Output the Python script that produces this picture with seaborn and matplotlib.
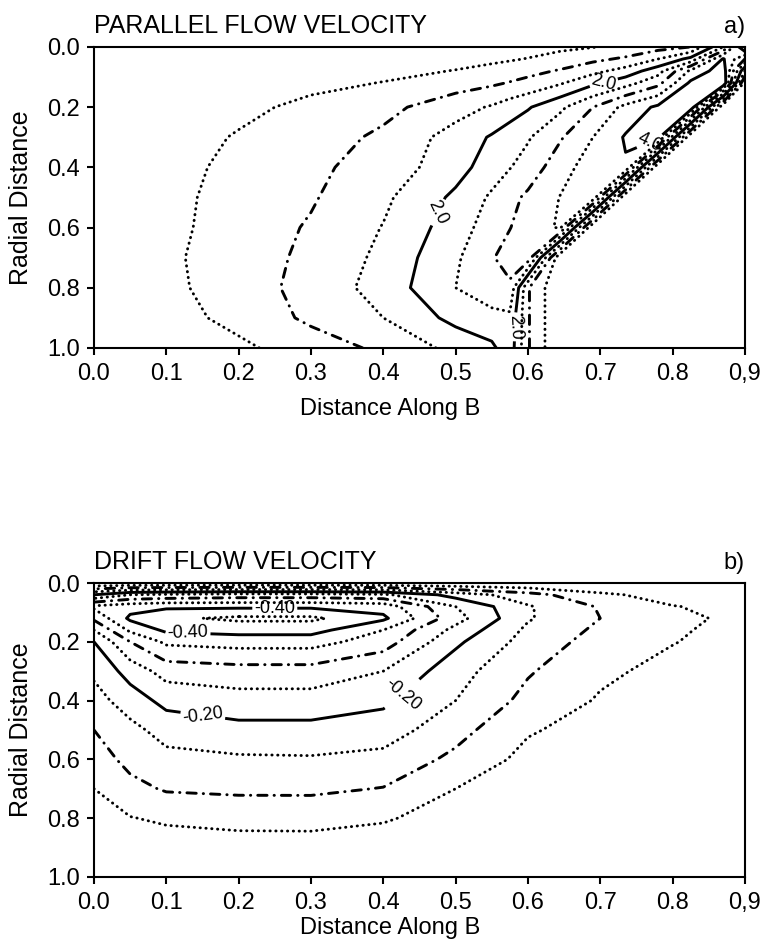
import numpy as np
import matplotlib
matplotlib.use("Agg")
import matplotlib.pyplot as plt
import seaborn as sns

# ---- panel a: parallel flow velocity ----
x_par = [0.0, 0.1, 0.2, 0.3, 0.4, 0.5, 0.55, 0.575, 0.6, 0.645, 0.69, 0.735, 0.78, 0.825, 0.87, 0.9]
r_par = [0.0, 0.04, 0.08, 0.12, 0.2, 0.3, 0.4, 0.5, 0.6, 0.7, 0.8, 0.9, 1.0]
v_par = [
    [0.0, 0.0, 0.0, 0.0, 0.05, 0.12, 0.18, 0.22, 0.28, 0.40, 0.48, 0.62, 0.80, 1.00, 2.50, 4.60],
    [0.0, 0.0, 0.03, 0.10, 0.20, 0.32, 0.40, 0.45, 0.52, 0.68, 0.88, 1.08, 1.50, 2.15, 4.05, 3.00],
    [0.0, 0.02, 0.10, 0.22, 0.35, 0.52, 0.65, 0.75, 0.85, 1.05, 1.35, 1.70, 2.30, 3.60, 4.30, 1.50],
    [0.0, 0.03, 0.20, 0.35, 0.52, 0.78, 0.92, 1.03, 1.15, 1.45, 1.90, 2.30, 2.85, 4.10, 4.50, 0.30],
    [0.0, 0.10, 0.35, 0.65, 0.85, 1.30, 1.55, 1.75, 1.95, 2.40, 3.00, 3.65, 4.10, 4.40, 0.0, 0.0],
    [0.0, 0.22, 0.55, 0.75, 1.10, 1.70, 2.05, 2.25, 2.45, 2.95, 3.50, 4.05, 4.20, 0.0, 0.0, 0.0],
    [0.0, 0.30, 0.65, 0.90, 1.20, 1.80, 2.25, 2.48, 2.70, 3.30, 3.75, 3.95, 0.0, 0.0, 0.0, 0.0],
    [0.0, 0.35, 0.70, 0.95, 1.40, 2.10, 2.58, 2.85, 3.10, 3.52, 3.80, 0.0, 0.0, 0.0, 0.0, 0.0],
    [0.0, 0.37, 0.72, 1.05, 1.52, 2.25, 2.75, 2.98, 3.30, 3.55, 0.0, 0.0, 0.0, 0.0, 0.0, 0.0],
    [0.0, 0.40, 0.78, 1.10, 1.62, 2.42, 2.95, 3.25, 3.30, 0.0, 0.0, 0.0, 0.0, 0.0, 0.0, 0.0],
    [0.0, 0.38, 0.75, 1.18, 1.70, 2.50, 2.80, 2.90, 1.05, 0.0, 0.0, 0.0, 0.0, 0.0, 0.0, 0.0],
    [0.0, 0.30, 0.65, 1.10, 1.50, 2.15, 2.35, 2.40, 1.05, 0.0, 0.0, 0.0, 0.0, 0.0, 0.0, 0.0],
    [0.0, 0.20, 0.40, 0.75, 1.10, 1.65, 1.90, 2.30, 1.05, 0.0, 0.0, 0.0, 0.0, 0.0, 0.0, 0.0],
]
levels_par = [0.5, 1.0, 1.5, 2.0, 2.5, 3.0, 3.5, 4.0]
labelled_par = [2.0, 4.0]
label_pos_par = [(0.705, 0.12), (0.476, 0.55), (0.582, 0.93), (0.768, 0.31)]

# ---- panel b: drift flow velocity ----
x_drift = [0.0, 0.05, 0.1, 0.2, 0.3, 0.4, 0.5, 0.6, 0.7, 0.8, 0.9]
r_drift = [0.0, 0.04, 0.08, 0.12, 0.16, 0.2, 0.3, 0.4, 0.5, 0.6, 0.7, 0.8, 0.9, 1.0]
v_drift = [
    [0.0, 0.0, 0.0, 0.0, 0.0, 0.0, 0.0, 0.0, 0.0, 0.0, 0.0],
    [-0.20, -0.25, -0.26, -0.27, -0.27, -0.26, -0.18, -0.12, -0.06, -0.03, -0.02],
    [-0.36, -0.38, -0.39, -0.39, -0.39, -0.38, -0.25, -0.155, -0.095, -0.052, -0.035],
    [-0.31, -0.41, -0.44, -0.46, -0.46, -0.41, -0.27, -0.155, -0.10, -0.06, -0.04],
    [-0.25, -0.36, -0.41, -0.42, -0.42, -0.35, -0.235, -0.14, -0.09, -0.056, -0.035],
    [-0.20, -0.30, -0.36, -0.37, -0.37, -0.325, -0.21, -0.13, -0.08, -0.052, -0.03],
    [-0.16, -0.22, -0.27, -0.28, -0.28, -0.25, -0.17, -0.105, -0.06, -0.035, -0.02],
    [-0.13, -0.175, -0.215, -0.23, -0.23, -0.21, -0.15, -0.085, -0.045, -0.02, -0.01],
    [-0.10, -0.135, -0.17, -0.185, -0.185, -0.175, -0.118, -0.055, -0.03, -0.01, -0.005],
    [-0.075, -0.115, -0.135, -0.143, -0.145, -0.135, -0.088, -0.035, -0.02, -0.005, 0.0],
    [-0.05, -0.085, -0.105, -0.11, -0.11, -0.098, -0.05, -0.02, -0.01, 0.0, 0.0],
    [-0.03, -0.048, -0.058, -0.065, -0.066, -0.055, -0.03, -0.01, -0.005, 0.0, 0.0],
    [-0.015, -0.02, -0.025, -0.03, -0.03, -0.025, -0.013, -0.005, 0.0, 0.0, 0.0],
    [-0.005, -0.008, -0.01, -0.01, -0.01, -0.008, -0.005, 0.0, 0.0, 0.0, 0.0],
]
levels_drift = [-0.45, -0.40, -0.35, -0.30, -0.25, -0.20, -0.15, -0.10, -0.05]
labelled_drift = [-0.40, -0.20]
label_pos_drift = [(0.13, 0.17), (0.25, 0.085), (0.15, 0.46), (0.42, 0.36)]

x_ticks = [0.0, 0.1, 0.2, 0.3, 0.4, 0.5, 0.6, 0.7, 0.8, 0.9]
x_ticklabels = ["0.0", "0.1", "0.2", "0.3", "0.4", "0.5", "0.6", "0.7", "0.8", "0,9"]
r_ticks = [0.0, 0.2, 0.4, 0.6, 0.8, 1.0]
r_ticklabels = ["0.0", "0.2", "0.4", "0.6", "0.8", "1.0"]

DOT = (0, (0.1, 1.9))
DASHDOT = (0, (3.2, 2.4, 0.1, 2.4))
SOLID = "solid"
CYCLE = [DOT, DASHDOT, DOT, SOLID]
LW = 2.1

sns.set_theme(style="ticks")
plt.rcParams["font.family"] = ["Liberation Sans", "DejaVu Sans"]
plt.rcParams.update({
    "axes.edgecolor": "black", "axes.linewidth": 1.5,
    "xtick.color": "black", "ytick.color": "black", "text.color": "black",
    "axes.labelcolor": "black",
    "xtick.major.size": 5, "ytick.major.size": 5,
    "xtick.major.width": 1.5, "ytick.major.width": 1.5,
    "xtick.major.pad": 6, "ytick.major.pad": 5,
    "xtick.labelsize": 17, "ytick.labelsize": 17,
})


def draw_panel(ax, x, r, v, levels, step, labelled, label_pos, fmt, title, tag, xlab_y):
    z = np.array(v)
    plain = [lv for lv in levels if lv not in labelled]
    styles = [CYCLE[(int(round(abs(lv) / step)) - 1) % 4] for lv in plain]
    cs = ax.contour(x, r, z, levels=plain, colors="black",
                    linewidths=LW, linestyles=styles)
    cs.set_capstyle("round")
    # the labelled levels are the solid ones
    cs_lab = ax.contour(x, r, z, levels=sorted(labelled), colors="black",
                        linewidths=LW, linestyles=SOLID)
    ax.clabel(cs_lab, manual=label_pos, fmt=fmt,
              fontsize=13, inline=True, inline_spacing=2)
    ax.set_xlim(0.0, 0.9)
    ax.set_ylim(1.0, 0.0)
    ax.set_xticks(x_ticks)
    ax.set_xticklabels(x_ticklabels)
    ax.set_yticks(r_ticks)
    ax.set_yticklabels(r_ticklabels)
    ax.set_xlabel("Distance Along B", fontsize=17)
    ax.xaxis.set_label_coords(0.455, xlab_y)
    ax.set_ylabel("Radial Distance", fontsize=18)
    ax.yaxis.set_label_coords(-0.094, 0.5)
    ax.set_title(title, loc="left", fontsize=18, pad=17)
    ax.set_title(tag, loc="right", fontsize=17, pad=10)
    for s in ax.spines.values():
        s.set_visible(True)


fig = plt.figure(figsize=(7.64, 9.48), dpi=100)
ax_a = fig.add_axes([0.123, 0.633, 0.852, 0.3175])
ax_b = fig.add_axes([0.123, 0.075, 0.852, 0.310])

draw_panel(ax_a, x_par, r_par, v_par, levels_par, 0.5, labelled_par, label_pos_par,
           "%.1f", "PARALLEL FLOW VELOCITY", "a)", -0.165)
draw_panel(ax_b, x_drift, r_drift, v_drift, levels_drift, 0.05, labelled_drift, label_pos_drift,
           lambda val: f"{val:.2f}", "DRIFT FLOW VELOCITY", "b)", -0.138)

fig.savefig("out.png", dpi=100)
plt.close(fig)
